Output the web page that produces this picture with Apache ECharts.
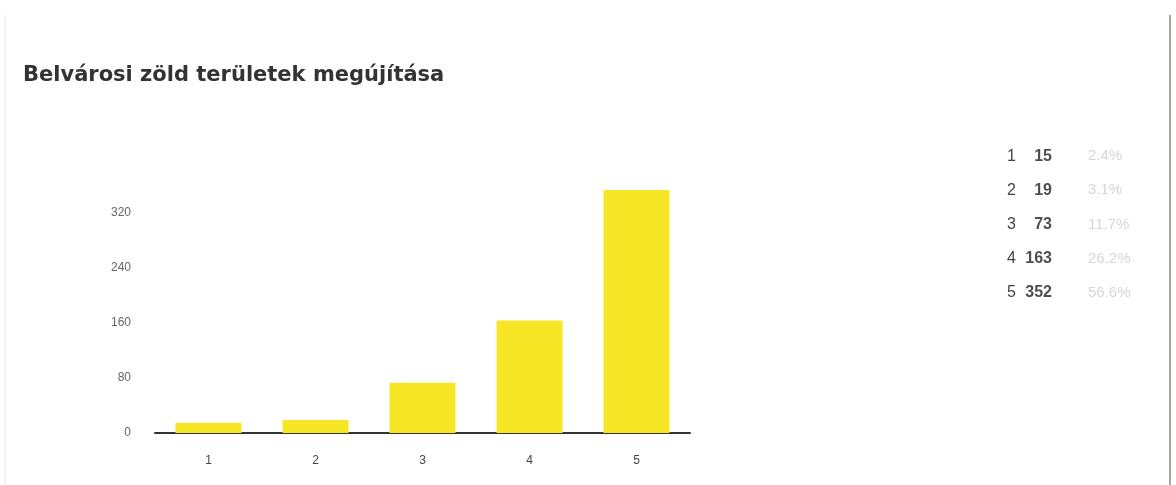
<!DOCTYPE html>
<html>
<head>
<meta charset="utf-8">
<script src="https://cdn.jsdelivr.net/npm/echarts@6/dist/echarts.min.js"></script>
<style>
html,body{margin:0;padding:0;background:#fff;}
#c{width:1176px;height:485px;}
</style>
</head>
<body>
<div id="c"></div>
<script>
const titleText = 'Belvárosi zöld területek megújítása';
const categories = ['1', '2', '3', '4', '5'];
const counts = [15, 19, 73, 163, 352];
const percents = ['2.4%', '3.1%', '11.7%', '26.2%', '56.6%'];
const yTicks = [0, 80, 160, 240, 320];

const chart = echarts.init(document.getElementById('c'));
const font = '"Liberation Sans", Arial, sans-serif';

chart.setOption({
  backgroundColor: '#ffffff',
  animation: false,
  title: {
    text: titleText,
    left: 18,
    top: 60,
    textStyle: { fontFamily: '"DejaVu Sans", sans-serif', fontWeight: 'bold', fontSize: 21, color: '#333333' }
  },
  graphic: [
    { type: 'line', shape: { x1: 5, y1: 15, x2: 5, y2: 485 }, style: { stroke: '#e6e6e6', lineWidth: 1 } },
    { type: 'line', shape: { x1: 1170, y1: 15, x2: 1170, y2: 485 }, style: { stroke: '#8a8a7a', lineWidth: 1.5 } }
  ],
  grid: [
    { left: 155, right: 486, top: 157, bottom: 52 },
    { left: 1022, width: 60, top: 139, height: 171 }
  ],
  xAxis: [
    {
      gridIndex: 0, type: 'category', data: categories,
      axisLine: { lineStyle: { color: '#333333', width: 2 } },
      axisTick: { show: false },
      axisLabel: { margin: 22, fontFamily: font, fontSize: 12, color: '#444444' }
    },
    {
      gridIndex: 1, type: 'category', data: ['n', 'p'], show: false
    }
  ],
  yAxis: [
    {
      gridIndex: 0, type: 'value', min: 0, max: 400, interval: 80,
      splitLine: { show: false },
      axisLine: { show: false },
      axisTick: { show: false },
      axisLabel: {
        margin: 24, fontFamily: font, fontSize: 12, color: '#666666',
        formatter: v => (yTicks.indexOf(v) >= 0 ? String(v) : '')
      }
    },
    {
      gridIndex: 1, type: 'category', data: categories, inverse: true,
      axisLine: { show: false }, axisTick: { show: false }, splitLine: { show: false },
      axisLabel: { margin: 6, fontFamily: font, fontSize: 16, color: '#444444' }
    }
  ],
  series: [
    {
      type: 'bar', xAxisIndex: 0, yAxisIndex: 0,
      data: counts, barWidth: 66,
      itemStyle: { color: '#f7e626' }
    },
    {
      type: 'scatter', xAxisIndex: 1, yAxisIndex: 1, symbolSize: 0,
      data: counts.map((v, i) => ['n', categories[i], v]),
      label: {
        show: true, position: 'inside', align: 'right', offset: [15, 0],
        formatter: p => String(p.data[2]),
        fontFamily: font, fontSize: 16, fontWeight: 'bold', color: '#222222'
      }
    },
    {
      type: 'scatter', xAxisIndex: 1, yAxisIndex: 1, symbolSize: 0,
      data: percents.map((v, i) => ['p', categories[i], v]),
      label: {
        show: true, position: 'inside', align: 'left', offset: [21, 0],
        formatter: p => p.data[2],
        fontFamily: font, fontSize: 15, color: '#cccccc'
      }
    }
  ]
});
</script>
</body>
</html>
